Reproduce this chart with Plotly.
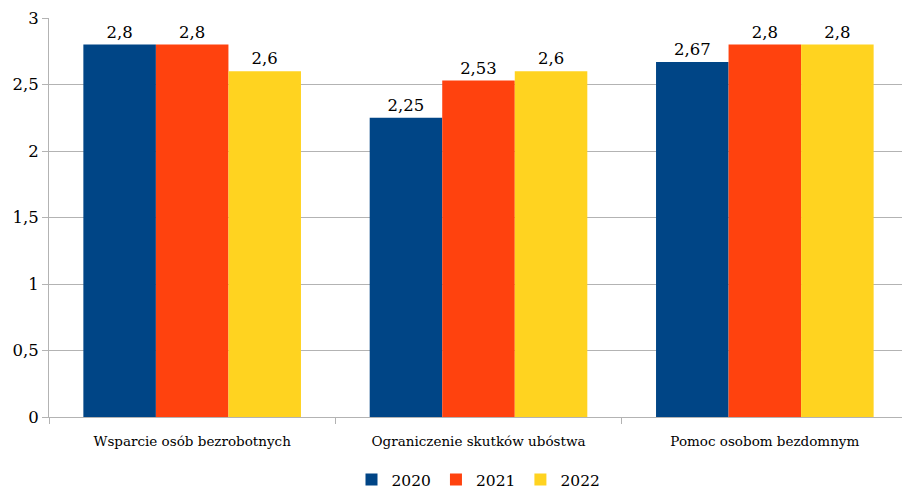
import plotly.graph_objects as go

categories = ["Wsparcie osób bezrobotnych", "Ograniczenie skutków ubóstwa", "Pomoc osobom bezdomnym"]
years = ["2020", "2021", "2022"]
values_2020 = [2.8, 2.25, 2.67]
values_2021 = [2.8, 2.53, 2.8]
values_2022 = [2.6, 2.6, 2.8]
colors = ["#004586", "#ff420e", "#ffd320"]

FONT = "DejaVu Serif"

fig = go.Figure()
for name, vals, col in zip(years, [values_2020, values_2021, values_2022], colors):
    fig.add_trace(go.Bar(
        x=categories, y=vals, name=name, marker_color=col, marker_line_width=0,
        text=[f"{v:g}".replace(".", ",") for v in vals], textposition="outside",
        textfont=dict(family=FONT, size=16.5, color="black"), cliponaxis=False,
    ))

fig.update_layout(
    width=902, height=484,
    margin=dict(l=41, r=2, t=10, b=75, autoexpand=False),
    barmode="group", bargap=0.24, bargroupgap=0,
    plot_bgcolor="white", paper_bgcolor="white",
    font=dict(family=FONT, size=16.5, color="black"),
    separators=",.",
    legend=dict(orientation="h", x=0.5, xanchor="center", y=-0.115, yanchor="top",
                font=dict(family=FONT, size=15.5), itemwidth=30,
                traceorder="normal"),
    showlegend=True,
)
fig.update_xaxes(showline=True, linecolor="#b3b3b3", linewidth=1, automargin=False,
                 ticks="outside", tickson="boundaries", ticklen=6, tickcolor="#b3b3b3",
                 tickfont=dict(family=FONT, size=13.5), showgrid=False, ticklabelstandoff=12)
fig.update_yaxes(range=[0, 3], dtick=0.5, showgrid=True, gridcolor="#b3b3b3", automargin=False,
                 showline=True, linecolor="#b3b3b3", ticks="outside", ticklen=6,
                 tickcolor="#b3b3b3", tickfont=dict(family=FONT, size=16.5), zeroline=False,
                 tickformat="~g")
fig.write_html("out.html")
